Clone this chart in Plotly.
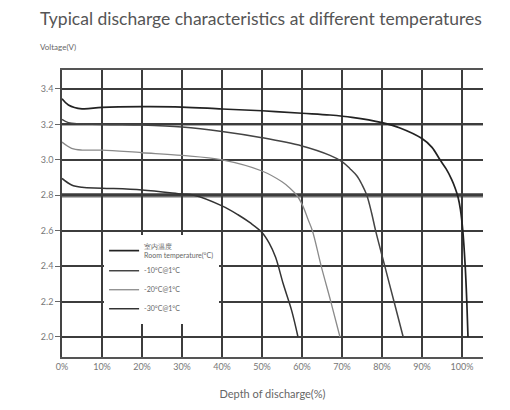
import plotly.graph_objects as go

# Depth of discharge (%) and voltage (V) for each temperature curve
room_x = [0, 1.6, 5, 10, 20, 30, 40, 50, 60, 67, 72.5, 80, 84.5, 90, 92.5, 94.5, 96, 97.4, 98.3, 99, 99.6, 100.2, 100.8, 101.2, 101.5]
room_y = [3.345, 3.31, 3.288, 3.296, 3.30, 3.298, 3.287, 3.277, 3.263, 3.253, 3.24, 3.21, 3.18, 3.12, 3.07, 3.0, 2.95, 2.89, 2.84, 2.79, 2.72, 2.6, 2.4, 2.2, 2.0]

m10_x = [0, 1.6, 10, 20, 30, 40, 50, 60, 67, 70, 72, 73.7, 75, 76.2, 77.4, 78.4, 80.7, 83, 85.3]
m10_y = [3.228, 3.21, 3.20, 3.196, 3.185, 3.16, 3.125, 3.078, 3.025, 2.99, 2.95, 2.91, 2.86, 2.80, 2.70, 2.6, 2.4, 2.2, 2.0]

m20_x = [0, 2.4, 5, 10, 20, 30, 40, 50, 55, 57, 58.7, 60.2, 61.4, 62.6, 64.8, 67.2, 69.5]
m20_y = [3.10, 3.065, 3.055, 3.055, 3.04, 3.025, 3.0, 2.937, 2.876, 2.84, 2.80, 2.74, 2.67, 2.6, 2.4, 2.2, 2.0]

m30_x = [0, 2.4, 5, 10, 20, 30, 33, 40, 44, 47, 50, 51.8, 53.4, 55.3, 57.4, 59]
m30_y = [2.895, 2.858, 2.845, 2.84, 2.83, 2.807, 2.80, 2.74, 2.69, 2.645, 2.59, 2.53, 2.45, 2.30, 2.15, 2.0]

series_names = ["室内温度<br>Room temperature(°C)", "-10°C@1°C", "-20°C@1°C", "-30°C@1°C"]
series_colors = ["#222222", "#444444", "#8a8a8a", "#333333"]
series_widths = [1.7, 1.5, 1.3, 1.5]

x_ticks = [0, 10, 20, 30, 40, 50, 60, 70, 80, 90, 100]
x_labels = ["0%", "10%", "20%", "30%", "40%", "50%", "60%", "70%", "80%", "90%", "100%"]
y_ticks = [2.0, 2.2, 2.4, 2.6, 2.8, 3.0, 3.2, 3.4]
y_labels = ["2.0", "2.2", "2.4", "2.6", "2.8", "3.0", "3.2", "3.4"]

FONT = "Lato"
W, H = 502, 402  # page body has an 8px margin

fig = go.Figure()
for xs, ys, name, col, w in zip([room_x, m10_x, m20_x, m30_x], [room_y, m10_y, m20_y, m30_y],
                                series_names, series_colors, series_widths):
    fig.add_trace(go.Scatter(x=xs, y=ys, mode="lines", name=name,
                             line=dict(color=col, width=w, shape="spline", smoothing=1.0)))

# thicker reference lines at 2.8 V and 3.2 V
fig.add_shape(type="line", xref="paper", x0=0, x1=1, yref="y", y0=2.8, y1=2.8,
              line=dict(color="#6e6e6e", width=4.5), layer="below")
fig.add_shape(type="line", xref="paper", x0=0, x1=1, yref="y", y0=3.2, y1=3.2,
              line=dict(color="#555555", width=2.2), layer="below")

fig.update_layout(
    width=W, height=H,
    margin=dict(l=54, r=27, t=62, b=53),
    paper_bgcolor="white", plot_bgcolor="white",
    font=dict(family=FONT, color="#666666"),
    title=dict(text="Typical discharge characteristics at different temperatures",
               x=32/W, xref="container", xanchor="left",
               y=1-11/H, yref="container", yanchor="middle",
               font=dict(size=17.5, color="#555555", family=FONT)),
    showlegend=True,
    legend=dict(x=0.1, xanchor="left", y=0.425, yanchor="top",
                bgcolor="white", font=dict(size=7, color="#666666"),
                itemwidth=30, tracegroupgap=3),
    annotations=[dict(text="Voltage(V)", xref="paper", yref="paper",
                      x=-24/421, y=1+23/287, xanchor="left", yanchor="middle",
                      showarrow=False, font=dict(size=8, color="#666666"))],
)

fig.update_xaxes(range=[0, 105.25], tickvals=x_ticks, ticktext=x_labels,
                 showgrid=True, gridcolor="#3c3c3c", gridwidth=1.5,
                 showline=True, linecolor="#555555", linewidth=1.5, mirror=True,
                 zeroline=False, ticks="", tickfont=dict(size=9, color="#777777"),
                 title=dict(text="Depth of discharge(%)", standoff=20,
                            font=dict(size=11, color="#666666")))
fig.update_yaxes(range=[1.887, 3.507], tickvals=y_ticks, ticktext=y_labels,
                 showgrid=True, gridcolor="#3c3c3c", gridwidth=1.5,
                 showline=True, linecolor="#444444", linewidth=1.5,
                 zeroline=False, ticks="outside", ticklen=5, tickcolor="#666666",
                 tickfont=dict(size=9, color="#777777"))

fig.write_html("out.html")
